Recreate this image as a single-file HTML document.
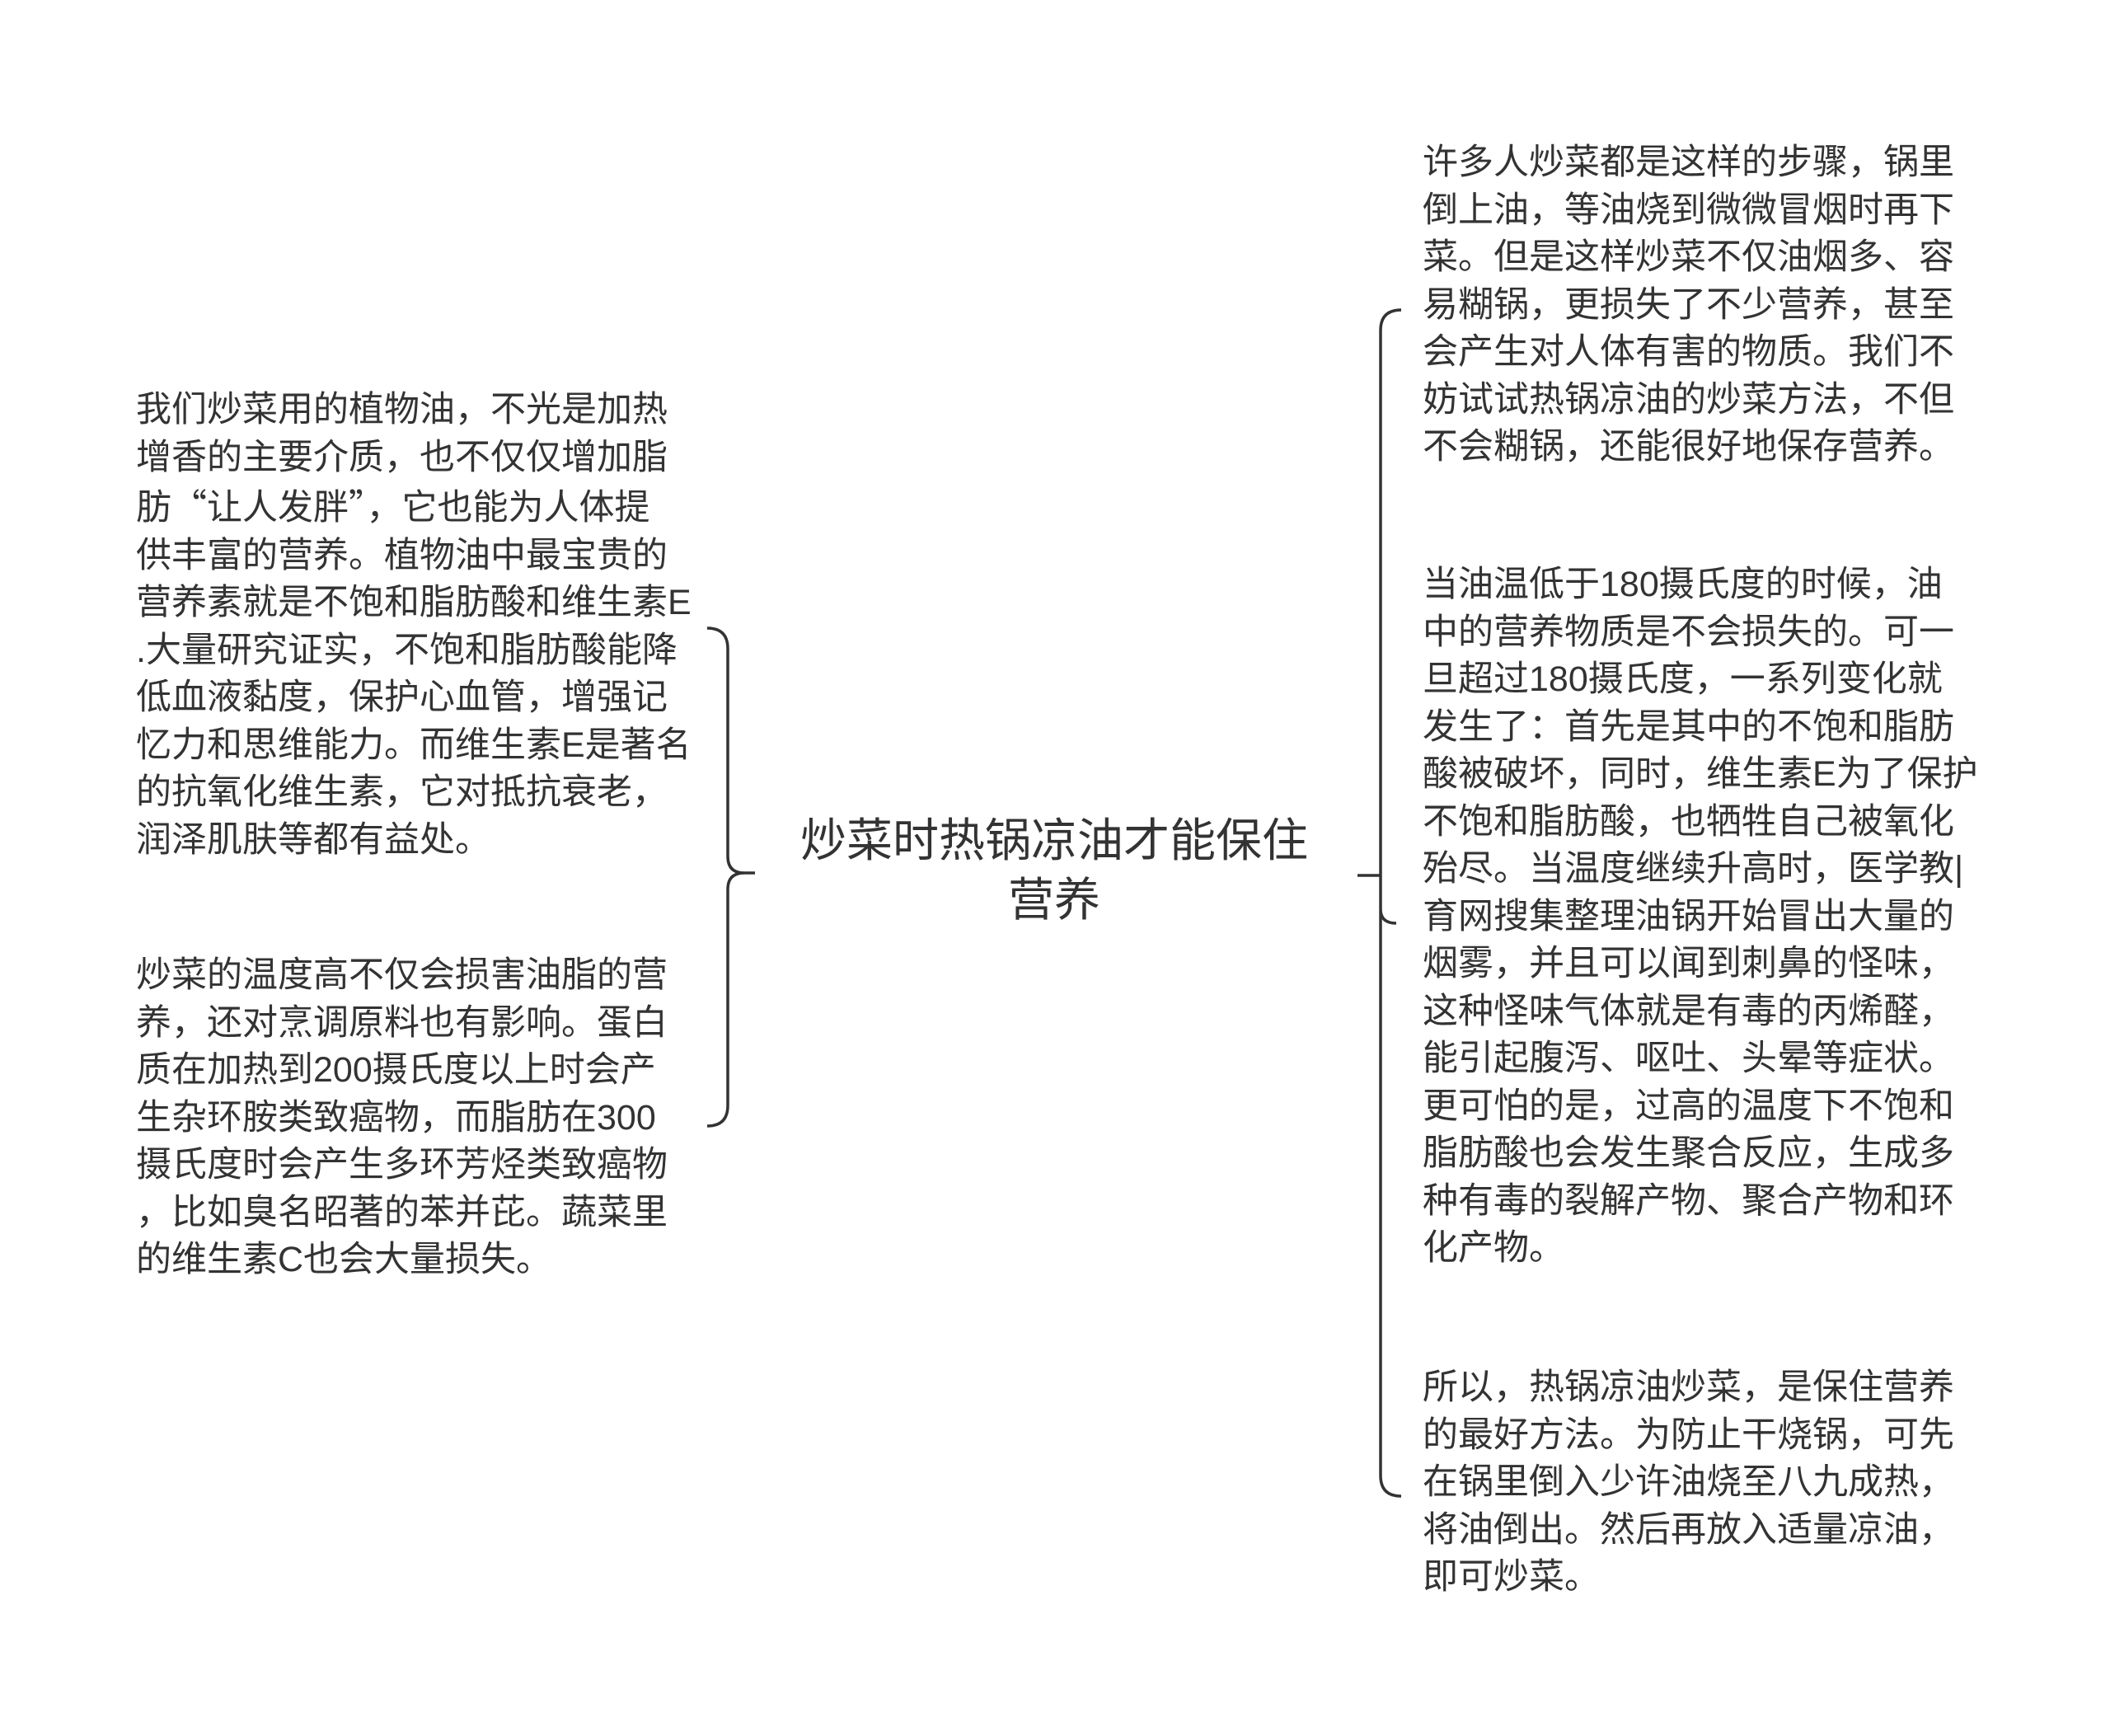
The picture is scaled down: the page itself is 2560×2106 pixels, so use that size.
<!DOCTYPE html>
<html><head><meta charset="utf-8"><style>
html,body{margin:0;padding:0;background:#fff;}
body{width:2560px;height:2106px;position:relative;overflow:hidden;font-family:"Liberation Sans","Noto Sans CJK SC",sans-serif;color:#333;}
.t{position:absolute;font-size:43px;line-height:57.5px;white-space:nowrap;}
.q{font-family:"Noto Sans CJK SC",sans-serif;}
.title{position:absolute;left:879px;width:800px;top:984px;text-align:center;font-size:56px;line-height:72px;}
svg{position:absolute;left:0;top:0;}
</style></head><body>
<svg width="2560" height="2106">
<g fill="none" stroke="#333" stroke-width="3.5">
<path d="M858 762 Q883 762 883 787 L883 1039 Q883 1059 903 1059 L916 1059 M903 1059 Q883 1059 883 1079 L883 1341 Q883 1366 858 1366"/>
<path d="M1647 1062 L1675 1062 M1700 376 Q1675 376 1675 401 L1675 1790 Q1675 1815 1700 1815 M1675 1103 Q1675 1120 1694 1120"/>
</g>
</svg>
<div class="title">炒菜时热锅凉油才能保住<br>营养</div>
<div class="t" style="left:165px;top:469px">我们炒菜用的植物油，不光是加热<br>增香的主要介质，也不仅仅增加脂<br>肪<span class="q">“</span>让人发胖<span class="q">”</span>，它也能为人体提<br>供丰富的营养。植物油中最宝贵的<br>营养素就是不饱和脂肪酸和维生素E<br>.大量研究证实，不饱和脂肪酸能降<br>低血液黏度，保护心血管，增强记<br>忆力和思维能力。而维生素E是著名<br>的抗氧化维生素，它对抵抗衰老，<br>润泽肌肤等都有益处。</div>
<div class="t" style="left:165px;top:1155px">炒菜的温度高不仅会损害油脂的营<br>养，还对烹调原料也有影响。蛋白<br>质在加热到200摄氏度以上时会产<br>生杂环胺类致癌物，而脂肪在300<br>摄氏度时会产生多环芳烃类致癌物<br>，比如臭名昭著的苯并芘。蔬菜里<br>的维生素C也会大量损失。</div>
<div class="t" style="left:1726px;top:169px">许多人炒菜都是这样的步骤，锅里<br>倒上油，等油烧到微微冒烟时再下<br>菜。但是这样炒菜不仅油烟多、容<br>易糊锅，更损失了不少营养，甚至<br>会产生对人体有害的物质。我们不<br>妨试试热锅凉油的炒菜方法，不但<br>不会糊锅，还能很好地保存营养。</div>
<div class="t" style="left:1726px;top:681px">当油温低于180摄氏度的时候，油<br>中的营养物质是不会损失的。可一<br>旦超过180摄氏度，一系列变化就<br>发生了：首先是其中的不饱和脂肪<br>酸被破坏，同时，维生素E为了保护<br>不饱和脂肪酸，也牺牲自己被氧化<br>殆尽。当温度继续升高时，医学教|<br>育网搜集整理油锅开始冒出大量的<br>烟雾，并且可以闻到刺鼻的怪味，<br>这种怪味气体就是有毒的丙烯醛，<br>能引起腹泻、呕吐、头晕等症状。<br>更可怕的是，过高的温度下不饱和<br>脂肪酸也会发生聚合反应，生成多<br>种有毒的裂解产物、聚合产物和环<br>化产物。</div>
<div class="t" style="left:1726px;top:1655px">所以，热锅凉油炒菜，是保住营养<br>的最好方法。为防止干烧锅，可先<br>在锅里倒入少许油烧至八九成热，<br>将油倒出。然后再放入适量凉油，<br>即可炒菜。</div>
</body></html>
